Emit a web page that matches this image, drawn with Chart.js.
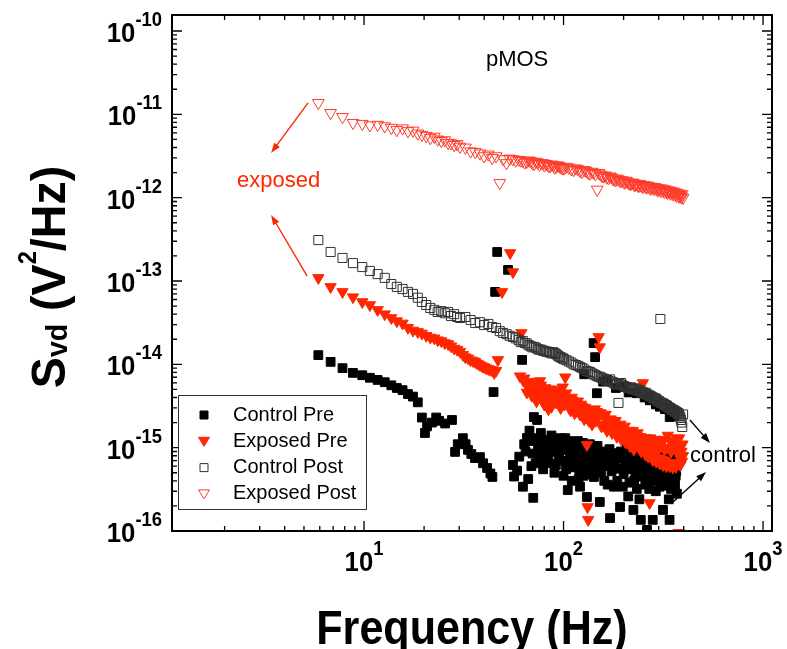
<!DOCTYPE html>
<html>
<head>
<meta charset="utf-8">
<script src="https://cdn.jsdelivr.net/npm/chart.js@4.4.1/dist/chart.umd.min.js"></script>
<style>
  html, body { margin: 0; padding: 0; background: #fff; }
</style>
</head>
<body>
<canvas id="chart" width="787" height="649"></canvas>
<script>
// ---- values ----
// frequency grid of the two "post" sweeps (Hz); second block fills the dense band
const postHz = [
  5.9, 6.8, 7.8, 8.8, 9.8, 10.7, 11.7, 12.7, 13.7, 14.6,
  15.6, 16.6, 17.6, 18.6, 19.5, 20.5, 21.5, 22.5, 23.4, 24.4,
  25.4, 26.4, 27.3, 28.3, 29.3, 30.3, 32.2, 34.2, 36.1, 38.1,
  40.0, 42.0, 43.9, 45.9, 47.9, 49.8, 51.8, 53.7, 55.7, 57.6,
  59.6, 62.5, 65.4, 68.4, 71.3, 74.2, 77.1, 80.1, 83.0, 85.9,
  88.9, 91.8, 94.7, 97.7, 100.6, 106.4, 112.3, 118.2, 124.0, 129.9,
  135.7, 141.6, 147.5, 153.3, 159.2, 165.0, 170.9, 176.8, 182.6, 188.5,
  194.3, 200.2, 206.1, 211.9, 217.8, 223.6, 229.5, 235.4, 241.2, 247.1,
  252.9, 258.8, 264.6, 270.5, 276.4, 282.2, 288.1, 293.9, 299.8, 305.7,
  311.5, 317.4, 323.2, 329.1, 334.9, 340.8, 346.7, 352.5, 358.4, 364.3,
  370.1, 376.0, 381.8, 387.7, 393.5, 397.4,
  61.0, 63.9, 66.9, 69.8, 72.8, 75.7, 78.6, 81.6, 84.5, 87.4,
  90.3, 93.3, 96.2, 99.1, 103.5, 109.4, 115.2, 121.1, 127.0, 132.8,
  138.7, 144.5, 150.4, 156.3, 162.1, 168.0, 173.8, 179.7, 185.5, 191.4,
  197.3, 203.1, 209.0, 214.8, 220.7, 226.6, 232.4, 238.3, 244.1, 250.0,
  255.9, 261.7, 267.6, 273.4, 279.3, 285.2, 291.0, 296.9, 302.7, 308.6,
  314.5, 320.3, 326.2, 332.0, 337.9, 343.8, 349.6, 355.5, 361.3, 367.2,
  373.0, 378.9, 384.8, 390.6
];
const exposedPostS = [
  1.37e-11, 1.04e-11, 9.3e-12, 7.9e-12, 7.7e-12, 7.4e-12, 7.5e-12, 7.2e-12, 6.9e-12, 6.5e-12,
  6.8e-12, 6.3e-12, 6.4e-12, 5.9e-12, 5.7e-12, 5.5e-12, 5.2e-12, 5.4e-12, 5.0e-12, 4.8e-12,
  4.9e-12, 4.55e-12, 4.5e-12, 4.3e-12, 4.4e-12, 4.1e-12, 4.0e-12, 3.6e-12, 3.55e-12, 3.4e-12,
  3.15e-12, 3.3e-12, 3.0e-12, 3.15e-12, 1.5e-12, 2.9e-12, 2.6e-12, 2.95e-12, 2.9e-12, 2.8e-12,
  2.85e-12, 2.75e-12, 2.7e-12, 2.75e-12, 2.55e-12, 2.65e-12, 2.6e-12, 2.45e-12, 2.5e-12, 2.4e-12,
  2.45e-12, 2.35e-12, 2.4e-12, 2.3e-12, 2.25e-12, 2.3e-12, 2.15e-12, 2.2e-12, 2.05e-12, 2.1e-12,
  1.95e-12, 2.0e-12, 1.25e-12, 1.9e-12, 1.8e-12, 1.75e-12, 1.8e-12, 1.68e-12, 1.62e-12, 1.66e-12,
  1.58e-12, 1.55e-12, 1.6e-12, 1.5e-12, 1.47e-12, 1.52e-12, 1.44e-12, 1.4e-12, 1.46e-12, 1.38e-12,
  1.42e-12, 1.35e-12, 1.4e-12, 1.32e-12, 1.36e-12, 1.3e-12, 1.34e-12, 1.27e-12, 1.3e-12, 1.24e-12,
  1.29e-12, 1.22e-12, 1.26e-12, 1.18e-12, 1.23e-12, 1.16e-12, 1.2e-12, 1.13e-12, 1.18e-12, 1.1e-12,
  1.15e-12, 1.07e-12, 1.12e-12, 1.04e-12, 1.1e-12, 1.0e-12,
  2.8e-12, 2.65e-12, 2.8e-12, 2.6e-12, 2.7e-12, 2.5e-12, 2.6e-12, 2.55e-12, 2.4e-12, 2.5e-12,
  2.3e-12, 2.45e-12, 2.35e-12, 2.25e-12, 2.35e-12, 2.2e-12, 2.25e-12, 2.1e-12, 2.15e-12, 2.0e-12,
  2.05e-12, 1.92e-12, 1.98e-12, 1.82e-12, 1.85e-12, 1.72e-12, 1.76e-12, 1.65e-12, 1.7e-12, 1.6e-12,
  1.62e-12, 1.52e-12, 1.56e-12, 1.48e-12, 1.5e-12, 1.42e-12, 1.47e-12, 1.38e-12, 1.42e-12, 1.34e-12,
  1.39e-12, 1.33e-12, 1.36e-12, 1.28e-12, 1.33e-12, 1.26e-12, 1.3e-12, 1.22e-12, 1.27e-12, 1.2e-12,
  1.25e-12, 1.17e-12, 1.22e-12, 1.14e-12, 1.19e-12, 1.12e-12, 1.16e-12, 1.09e-12, 1.14e-12, 1.06e-12,
  1.1e-12, 1.03e-12, 1.08e-12, 1.01e-12
];
const controlPostS = [
  3.1e-13, 2.23e-13, 1.89e-13, 1.64e-13, 1.47e-13, 1.32e-13, 1.21e-13, 1.09e-13, 9.2e-14, 8.5e-14,
  8.0e-14, 7.4e-14, 7.0e-14, 6.3e-14, 5.6e-14, 5.15e-14, 4.75e-14, 4.5e-14, 4.25e-14, 4.35e-14,
  4.1e-14, 4.25e-14, 3.8e-14, 4.0e-14, 3.7e-14, 3.6e-14, 3.7e-14, 3.4e-14, 3.13e-14, 3.2e-14,
  2.96e-14, 3.05e-14, 2.8e-14, 2.73e-14, 2.5e-14, 2.38e-14, 2.3e-14, 2.2e-14, 2.13e-14, 2.05e-14,
  1.95e-14, 1.9e-14, 1.78e-14, 1.65e-14, 1.62e-14, 1.52e-14, 1.5e-14, 1.45e-14, 1.42e-14, 1.38e-14,
  1.4e-14, 1.33e-14, 1.25e-14, 1.2e-14, 1.15e-14, 1.08e-14, 1.0e-14, 9.6e-15, 9.0e-15, 8.3e-15,
  8.1e-15, 7.6e-15, 7.2e-15, 7.0e-15, 6.7e-15, 6.4e-15, 6.6e-15, 6.1e-15, 5.8e-15, 3.44e-15,
  5.97e-15, 5.5e-15, 5.35e-15, 5.2e-15, 5.3e-15, 5.1e-15, 5.15e-15, 4.95e-15, 4.9e-15, 4.7e-15,
  4.5e-15, 4.55e-15, 4.3e-15, 4.2e-15, 4.1e-15, 3.95e-15, 3.9e-15, 3.75e-15, 3.55e-15, 3.5e-14,
  3.44e-15, 3.35e-15, 3.25e-15, 3.2e-15, 3.05e-15, 3.0e-15, 2.9e-15, 2.83e-15, 2.8e-15, 2.72e-15,
  2.65e-15, 2.6e-15, 2.4e-15, 2.15e-15, 1.77e-15, 2.5e-15,
  1.85e-14, 1.8e-14, 1.7e-14, 1.6e-14, 1.58e-14, 1.5e-14, 1.46e-14, 1.42e-14, 1.4e-14, 1.35e-14,
  1.36e-14, 1.28e-14, 1.22e-14, 1.18e-14, 1.12e-14, 1.05e-14, 9.8e-15, 9.3e-15, 8.7e-15, 8.2e-15,
  7.8e-15, 7.4e-15, 7.1e-15, 6.8e-15, 6.5e-15, 6.3e-15, 6.2e-15, 5.9e-15, 5.7e-15, 5.8e-15,
  5.6e-15, 5.4e-15, 5.25e-15, 5.2e-15, 5.0e-15, 5.05e-15, 4.85e-15, 4.8e-15, 4.6e-15, 4.6e-15,
  4.4e-15, 4.35e-15, 4.25e-15, 4.1e-15, 4.0e-15, 3.9e-15, 3.8e-15, 3.65e-15, 3.6e-15, 3.45e-15,
  3.4e-15, 3.3e-15, 3.2e-15, 3.1e-15, 3.02e-15, 2.95e-15, 2.85e-15, 2.8e-15, 2.7e-15, 2.68e-15,
  2.55e-15, 2.5e-15, 2.3e-15, 2.0e-15
];

const exposedPreHz = [
  5.9, 6.8, 7.8, 8.8, 9.8, 10.7, 11.7, 12.7, 13.7, 14.6,
  15.6, 16.6, 17.6, 18.6, 19.5, 20.5, 21.5, 22.5, 23.4, 24.4,
  25.4, 26.4, 27.3, 28.3, 29.3, 30.3, 31.3, 32.2, 33.2, 34.2,
  35.2, 36.1, 37.1, 38.1, 39.1, 40.0, 41.0, 42.0, 43.0, 43.9,
  44.9, 45.9, 46.9, 49.2, 54.0, 55.8, 60.5, 61.5, 62.6, 64.5,
  66.4, 68.4, 70.3, 72.3, 74.2, 76.2, 78.1, 80.0, 82.0, 84.0,
  86.0, 88.0, 90.8, 92.8, 95.7, 97.7, 100, 102, 104, 107,
  110, 112, 115, 118, 121, 124, 127, 130, 131, 132,
  133, 136, 139, 142, 145, 147, 150, 152, 155, 160,
  165, 170, 175, 180, 185, 190, 195, 200, 205, 210,
  215, 220, 225, 230, 235, 240, 245, 250, 253, 258,
  262, 266, 270, 274, 280, 285, 291, 297, 303, 309,
  315, 321, 327, 333, 340, 346, 353, 360, 366, 373,
  378, 380, 385, 390, 395,
  63.5, 65.5, 67.4, 69.4, 71.3, 73.2, 75.2, 77.1, 79.1, 81.0,
  83.0, 85.0, 87.0, 89.0, 91.8, 94.2, 96.7, 99.0, 101, 103,
  105.5, 108.5, 111, 113.5, 116.5, 119.5, 122.5, 125.5, 128.5, 134,
  137.5, 140.5, 143.5, 148.5, 153.5, 157.5, 162.5, 167.5, 172.5, 177.5,
  182.5, 187.5, 192.5, 197.5, 202.5, 207.5, 212.5, 217.5, 222.5, 227.5,
  232.5, 237.5, 242.5, 247.5, 255.5, 260, 264, 268, 272, 277,
  282.5, 288, 294, 300, 306, 312, 318, 324, 330, 336.5,
  343, 349.5, 356.5, 363, 369.5, 375.5, 382.5, 387.5, 392.5, 397
];
const exposedPreS = [
  1.09e-13, 8.5e-14, 7.4e-14, 6.4e-14, 5.6e-14, 5.15e-14, 4.5e-14, 4.0e-14, 3.6e-14, 3.3e-14,
  3.1e-14, 2.75e-14, 2.55e-14, 2.45e-14, 2.35e-14, 2.2e-14, 2.1e-14, 2.05e-14, 1.95e-14, 1.9e-14,
  1.8e-14, 1.75e-14, 1.65e-14, 1.55e-14, 1.5e-14, 1.42e-14, 1.3e-14, 1.22e-14, 1.18e-14, 1.12e-14,
  1.1e-14, 1.07e-14, 1.02e-14, 9.8e-15, 9.5e-15, 9.3e-15, 9.0e-15, 8.8e-15, 8.6e-15, 8.5e-15,
  7.9e-15, 8.4e-15, 1.13e-14, 7.4e-14, 2.17e-13, 1.28e-13, 7.2e-15, 2.38e-14, 6.5e-15, 6.0e-15,
  5.3e-15, 5.7e-15, 4.8e-15, 4.1e-15, 5.4e-15, 6.3e-15, 4.5e-15, 3.3e-15, 4.9e-15, 2.9e-15,
  4.4e-15, 3.6e-15, 5.0e-15, 3.9e-15, 4.7e-15, 3.4e-15, 4.2e-15, 7.0e-15, 3.7e-15, 3.0e-15,
  4.0e-15, 3.2e-15, 2.7e-15, 3.6e-15, 2.5e-15, 3.1e-15, 2.2e-15, 2.8e-15, 1.08e-15, 1.94e-16,
  1.36e-16, 2.4e-15, 1.9e-15, 2.6e-15, 2.1e-15, 2.7e-15, 2.13e-14, 1.61e-14, 1.8e-15, 2.3e-15,
  1.6e-15, 2.0e-15, 1.5e-15, 1.9e-15, 1.35e-15, 1.75e-15, 1.25e-15, 1.6e-15, 1.15e-15, 1.5e-15,
  1.05e-15, 1.4e-15, 9.5e-16, 1.3e-15, 1.5e-15, 1.2e-15, 9.0e-16, 5.97e-15, 1.1e-15, 8.2e-16,
  1.3e-15, 7.8e-16, 2.17e-16, 1.1e-15, 7.1e-16, 1.25e-15, 6.8e-16, 1.0e-15, 6.5e-16, 1.2e-15,
  6.2e-16, 9.5e-16, 6.0e-16, 1.4e-15, 6.0e-16, 9.0e-16, 5.8e-16, 1.15e-15, 5.9e-16, 8.5e-16,
  9.5e-17, 1.3e-15, 6.2e-16, 9.0e-16, 1.1e-15,
  6.8e-15, 4.6e-15, 6.2e-15, 4.2e-15, 5.9e-15, 3.6e-15, 4.9e-15, 5.6e-15, 3.9e-15, 5.2e-15,
  3.5e-15, 5.0e-15, 3.1e-15, 4.5e-15, 3.5e-15, 4.3e-15, 3.0e-15, 5.3e-15, 3.3e-15, 4.5e-15,
  3.9e-15, 2.8e-15, 3.7e-15, 2.6e-15, 3.3e-15, 2.9e-15, 3.3e-15, 2.4e-15, 3.0e-15, 2.1e-15,
  2.8e-15, 2.2e-15, 2.9e-15, 2.3e-15, 2.6e-15, 1.9e-15, 2.5e-15, 1.8e-15, 2.2e-15, 1.65e-15,
  2.1e-15, 1.5e-15, 1.9e-15, 1.4e-15, 1.8e-15, 1.3e-15, 1.6e-15, 1.2e-15, 1.6e-15, 1.1e-15,
  1.4e-15, 1.05e-15, 1.35e-15, 1.0e-15, 1.3e-15, 9.0e-16, 1.2e-15, 8.5e-16, 1.3e-15, 9.0e-16,
  1.15e-15, 8.2e-16, 1.1e-15, 7.5e-16, 1.05e-15, 7.2e-16, 1.25e-15, 7.0e-16, 1.0e-15, 6.6e-16,
  1.2e-15, 6.5e-16, 1.0e-15, 6.2e-16, 1.3e-15, 6.6e-16, 1.0e-15, 7.2e-16, 6.8e-16, 8.0e-16
];

const controlPreHz = [
  5.9, 6.8, 7.8, 8.8, 9.8, 10.7, 11.7, 12.7, 13.7, 14.6,
  15.6, 16.6, 17.6, 18.6, 19.5, 20.2, 20.7, 21.9, 23.0, 23.8,
  25.5, 27.6, 28.6, 29.5, 31.3, 32.3, 33.2, 34.5, 36.0, 38.1,
  39.5, 41.4, 43.0, 44.0, 44.6, 45.4, 46.5, 52.7, 55.8, 56.5,
  62.0, 62.6, 64.5, 65.6, 67.5, 69.0, 70.5, 71.0, 72.0, 73.7,
  74.5, 75.0, 77.0, 79.0, 81.0, 82.6, 83.5, 85.0, 87.0, 88.5,
  90.0, 93.0, 95.0, 98.0, 100, 102, 104, 105, 107, 109,
  111, 114, 117, 119, 121, 123, 125, 128, 131, 134,
  137, 141, 141.5, 142, 144, 145, 148, 152, 156, 160,
  165, 168, 171, 174, 177, 181, 186, 192, 196, 200,
  204, 208, 214, 218, 224, 229, 233, 237, 242, 244,
  248, 252, 257, 262, 266, 272, 277, 280, 285, 290,
  296, 300, 308, 315, 320, 328, 330, 334, 340, 342,
  346, 350, 355, 360, 365, 370,
  127, 147, 158, 165.5, 183, 199, 212, 233.5, 255, 270.5,
  290.5, 304, 322, 340.5, 358,
  58.5, 60.0, 63.5, 66.5, 68.0, 70.0, 72.5, 76.0, 78.0, 80.0,
  84.0, 86.0, 89.0, 91.5, 94.0, 96.5, 99.0, 101, 103, 106,
  108, 110, 112.5, 115.5, 118, 120, 122, 124, 126, 129.5,
  132.5, 135.5, 139, 143, 146.5, 150, 154, 158, 162, 166.5,
  170, 175.5, 179, 183.5, 188.5, 194, 198, 202, 206, 211,
  216, 221, 226, 231, 235, 240, 246, 250, 254, 260,
  264, 269, 274, 282, 287, 293, 298, 303, 311, 317,
  324, 331, 337, 344, 352, 357, 362, 367, 372, 338
];
const controlPreS = [
  1.29e-14, 1.07e-14, 9.0e-15, 7.9e-15, 7.4e-15, 6.9e-15, 6.5e-15, 6.1e-15, 5.6e-15, 5.2e-15,
  4.9e-15, 4.4e-15, 4.1e-15, 3.5e-15, 2.3e-15, 1.5e-15, 1.8e-15, 2.0e-15, 2.3e-15, 2.1e-15,
  1.95e-15, 2.15e-15, 8.9e-16, 1.1e-15, 1.3e-15, 1.1e-15, 9.4e-16, 8.4e-16, 7.5e-16, 7.7e-16,
  6.5e-16, 5.7e-16, 4.9e-16, 4.45e-16, 4.65e-15, 7.4e-14, 2.23e-13, 1.36e-13, 6.2e-16, 4.5e-16,
  1.13e-14, 3.4e-16, 9.0e-16, 1.31e-15, 1.6e-15, 6.0e-16, 2.5e-16, 2.33e-15, 1.3e-15, 2.15e-15,
  1.02e-15, 8.0e-16, 1.5e-15, 5.5e-16, 1.1e-15, 1.24e-15, 7.1e-16, 6.5e-16, 1.4e-15, 1.02e-15,
  5.0e-16, 1.2e-15, 7.5e-16, 1.05e-15, 4.6e-16, 1.3e-15, 9.4e-16, 3.1e-16, 6.8e-16, 1.1e-15,
  8.6e-16, 5.8e-16, 9.6e-16, 4.2e-16, 3.4e-16, 7.5e-16, 1.14e-15, 1.0e-15, 2.56e-16, 6.0e-16,
  9.0e-16, 7.7e-16, 1.8e-14, 4.45e-16, 1.22e-14, 5.5e-16, 1.05e-15, 2.23e-16, 6.5e-16, 4.0e-16,
  8.6e-16, 7.0e-16, 1.43e-16, 5.2e-16, 8.6e-16, 6.5e-16, 4.0e-16, 1.94e-16, 7.5e-16, 4.8e-16,
  6.2e-16, 1.02e-15, 3.8e-16, 7.0e-16, 1.79e-16, 5.0e-16, 3.2e-16, 6.5e-16, 9.4e-16, 1.36e-16,
  4.5e-16, 7.8e-16, 3.6e-16, 1.03e-16, 6.0e-16, 4.2e-16, 8.0e-16, 1.36e-16, 5.0e-16, 3.0e-16,
  6.8e-16, 4.4e-16, 7.5e-16, 1.79e-16, 3.5e-16, 5.4e-16, 8.6e-16, 6.2e-16, 1.36e-16, 7.1e-16,
  3.2e-16, 5.8e-16, 4.1e-16, 7.6e-16, 4.6e-16, 2.8e-16,
  7.6e-15, 4.5e-15, 6.2e-15, 6.5e-15, 5.2e-15, 5.35e-15, 4.6e-15, 4.5e-15, 4.0e-15, 3.7e-15,
  3.3e-15, 3.1e-15, 2.9e-15, 2.33e-15, 2.4e-15,
  5.3e-16, 7.8e-16, 1.1e-15, 4.2e-16, 1.2e-15, 8.5e-16, 6.5e-16, 1.2e-15, 9.0e-16, 6.8e-16,
  1.15e-15, 8.8e-16, 1.25e-15, 6.2e-16, 9.5e-16, 1.3e-15, 7.0e-16, 9.8e-16, 5.5e-16, 1.2e-15,
  8.0e-16, 4.0e-16, 1.0e-15, 7.2e-16, 1.2e-15, 5.4e-16, 9.0e-16, 6.0e-16, 4.6e-16, 7.8e-16,
  5.2e-16, 1.1e-15, 4.8e-16, 9.5e-16, 6.2e-16, 8.0e-16, 5.0e-16, 9.0e-16, 6.0e-16, 3.6e-16,
  9.6e-16, 6.8e-16, 3.4e-16, 8.0e-16, 5.6e-16, 9.0e-16, 3.4e-16, 8.2e-16, 5.5e-16, 2.6e-16,
  5.8e-16, 8.4e-16, 4.0e-16, 7.4e-16, 5.5e-16, 2.4e-16, 6.8e-16, 5.6e-16, 8.8e-16, 4.8e-16,
  7.0e-16, 3.2e-16, 5.6e-16, 6.5e-16, 4.0e-16, 5.3e-16, 7.8e-16, 3.4e-16, 5.8e-16, 4.8e-16,
  7.0e-16, 4.0e-16, 2.4e-16, 6.6e-16, 4.8e-16, 6.8e-16, 3.6e-16, 5.2e-16, 6.4e-16, 8.0e-16
];

const seriesNames = ['Control Pre', 'Exposed Pre', 'Control Post', 'Exposed Post'];
const xTickExp = [1, 2, 3];
const yTickExp = [-10, -11, -12, -13, -14, -15, -16];

// text labels and arrows, placed in data coordinates (Hz, V^2/Hz)
const RED = '#ff2600';
const notes = [
  { text: 'pMOS', hz: 58.5, s: 4.5e-11, color: '#000', align: 'center' },
  { text: 'exposed', hz: 2.31, s: 1.58e-12, color: RED, align: 'left' },
  { text: 'control', hz: 430, s: 7.9e-16, color: '#000', align: 'left' }
];
const arrows = [
  { from: [5.24, 1.37e-11], to: [3.42, 3.44e-12], color: RED },
  { from: [5.18, 1.15e-13], to: [3.42, 6.2e-13], color: RED },
  { from: [430, 2.15e-15], to: [542, 1.14e-15], color: '#000' },
  { from: [354, 2.23e-16], to: [518, 5.1e-16], color: '#000' }
];

const FONT = '"Liberation Sans", Arial, Helvetica, sans-serif';

function pairs(hz, s) {
  return hz.map((f, i) => ({ x: f, y: s[i] }));
}

// draw a row of text pieces (for super/subscripts)
function drawRuns(ctx, runs, x, y, sx, align) {
  ctx.save();
  ctx.translate(x, y);
  ctx.scale(sx, 1);
  let w = 0;
  runs.forEach(r => { ctx.font = r.font; w += ctx.measureText(r.t).width; });
  let cx = align === 'right' ? -w : align === 'center' ? -w / 2 : 0;
  ctx.textBaseline = 'alphabetic';
  ctx.textAlign = 'left';
  runs.forEach(r => {
    ctx.font = r.font;
    ctx.fillText(r.t, cx, r.dy || 0);
    cx += ctx.measureText(r.t).width;
  });
  ctx.restore();
}

function drawArrow(ctx, x1, y1, x2, y2, color) {
  const a = Math.atan2(y2 - y1, x2 - x1), L = 10, W = 3.5;
  ctx.strokeStyle = color;
  ctx.fillStyle = color;
  ctx.lineWidth = 1.4;
  ctx.beginPath();
  ctx.moveTo(x1, y1);
  ctx.lineTo(x2 - Math.cos(a) * L * 0.7, y2 - Math.sin(a) * L * 0.7);
  ctx.stroke();
  ctx.beginPath();
  ctx.moveTo(x2, y2);
  ctx.lineTo(x2 - L * Math.cos(a) + W * Math.sin(a), y2 - L * Math.sin(a) - W * Math.cos(a));
  ctx.lineTo(x2 - L * Math.cos(a) - W * Math.sin(a), y2 - L * Math.sin(a) + W * Math.cos(a));
  ctx.closePath();
  ctx.fill();
}

function legendMarker(ctx, ds, x, y) {
  ctx.save();
  ctx.lineWidth = 1;
  ctx.strokeStyle = ds.borderColor;
  ctx.fillStyle = ds.backgroundColor;
  ctx.beginPath();
  if (ds.pointStyle === 'rect') {
    ctx.rect(x - 4, y - 4, 8, 8);
  } else {
    ctx.moveTo(x - 5.5, y - 4);
    ctx.lineTo(x + 5.5, y - 4);
    ctx.lineTo(x, y + 5);
    ctx.closePath();
  }
  ctx.fill();
  ctx.stroke();
  ctx.restore();
}

const decorPlugin = {
  id: 'decor',
  afterDraw(chart) {
    const ctx = chart.ctx;
    const a = chart.chartArea;
    const xs = chart.scales.x, ys = chart.scales.y;
    ctx.save();

    // inward ticks on all four sides
    ctx.strokeStyle = '#000';
    ctx.lineWidth = 1.3;
    ctx.beginPath();
    for (let e = 0; e <= 3; e++) {
      for (let m = 1; m <= 9; m++) {
        const v = m * Math.pow(10, e);
        if (v < xs.min || v > xs.max) continue;
        const px = xs.getPixelForValue(v);
        const len = m === 1 ? 10 : 5;
        ctx.moveTo(px, a.bottom); ctx.lineTo(px, a.bottom - len);
        ctx.moveTo(px, a.top); ctx.lineTo(px, a.top + len);
      }
    }
    for (let e = -16; e <= -10; e++) {
      for (let m = 1; m <= 9; m++) {
        const v = m * Math.pow(10, e);
        if (v < ys.min * 0.999 || v > ys.max) continue;
        const py = ys.getPixelForValue(v);
        const len = m === 1 ? 10 : 5;
        ctx.moveTo(a.left, py); ctx.lineTo(a.left + len, py);
        ctx.moveTo(a.right, py); ctx.lineTo(a.right - len, py);
      }
    }
    ctx.stroke();

    // frame
    ctx.lineWidth = 2;
    ctx.strokeRect(a.left, a.top, a.right - a.left, a.bottom - a.top);

    // tick labels
    ctx.fillStyle = '#000';
    const big = `bold 28px ${FONT}`, sup = `bold 20px ${FONT}`;
    yTickExp.forEach(e => {
      const py = ys.getPixelForValue(Math.pow(10, e));
      drawRuns(ctx, [{ t: '10', font: big }, { t: String(e), font: sup, dy: -16 }],
        a.left - 10, py + 11, 0.92, 'right');
    });
    xTickExp.forEach(e => {
      const px = xs.getPixelForValue(Math.pow(10, e));
      drawRuns(ctx, [{ t: '10', font: big }, { t: String(e), font: sup, dy: -16 }],
        px, a.bottom + 40, 0.92, 'center');
    });

    // axis titles
    const tFont = `bold 49px ${FONT}`;
    drawRuns(ctx, [{ t: 'Frequency (Hz)', font: tFont }],
      (a.left + a.right) / 2, a.bottom + 113, 0.88, 'center');
    ctx.save();
    ctx.translate(65, (a.top + a.bottom) / 2 + 4);
    ctx.rotate(-Math.PI / 2);
    drawRuns(ctx, [
      { t: 'S', font: tFont },
      { t: 'vd', font: `bold 30px ${FONT}`, dy: 2 },
      { t: ' (V', font: tFont },
      { t: '2', font: `bold 25px ${FONT}`, dy: -29 },
      { t: '/Hz)', font: tFont }
    ], 0, 0, 0.95, 'center');
    ctx.restore();

    // annotations
    notes.forEach(n => {
      ctx.font = `22px ${FONT}`;
      ctx.fillStyle = n.color;
      ctx.textAlign = n.align;
      ctx.textBaseline = 'middle';
      ctx.fillText(n.text, xs.getPixelForValue(n.hz), ys.getPixelForValue(n.s));
    });
    arrows.forEach(r => {
      drawArrow(ctx,
        xs.getPixelForValue(r.from[0]), ys.getPixelForValue(r.from[1]),
        xs.getPixelForValue(r.to[0]), ys.getPixelForValue(r.to[1]), r.color);
    });

    // legend box
    const bx = a.left + 6;
    ctx.fillStyle = '#fff';
    ctx.strokeStyle = '#333';
    ctx.lineWidth = 1;
    ctx.fillRect(bx, 395, 188, 114);
    ctx.strokeRect(bx + 0.5, 395.5, 188, 114);
    chart.data.datasets.forEach((ds, i) => {
      const ry = 415 + i * 26.3;
      legendMarker(ctx, ds, bx + 26, ry);
      ctx.fillStyle = '#000';
      ctx.font = `20px ${FONT}`;
      ctx.textAlign = 'left';
      ctx.textBaseline = 'middle';
      ctx.fillText(ds.label, bx + 55, ry);
    });
    ctx.restore();
  }
};

new Chart(document.getElementById('chart'), {
  type: 'scatter',
  data: {
    datasets: [
      {
        label: seriesNames[0], data: pairs(controlPreHz, controlPreS),
        pointStyle: 'rect', pointRadius: 6.2, borderWidth: 1,
        backgroundColor: '#000', borderColor: '#000', order: 4, clip: 0
      },
      {
        label: seriesNames[1], data: pairs(exposedPreHz, exposedPreS),
        pointStyle: 'triangle', pointRotation: 180, pointRadius: 6.5, borderWidth: 1,
        backgroundColor: RED, borderColor: RED, order: 3, clip: 0
      },
      {
        label: seriesNames[2], data: pairs(postHz, controlPostS),
        pointStyle: 'rect', pointRadius: 6.4, borderWidth: 1,
        backgroundColor: 'rgba(255,255,255,0)', borderColor: '#333', order: 2, clip: 0
      },
      {
        label: seriesNames[3], data: pairs(postHz, exposedPostS),
        pointStyle: 'triangle', pointRotation: 180, pointRadius: 6.8, borderWidth: 1,
        backgroundColor: 'rgba(255,255,255,0)', borderColor: '#ff3b2b', order: 1, clip: 0
      }
    ]
  },
  options: {
    responsive: false,
    animation: false,
    events: [],
    layout: { autoPadding: false, padding: { top: 15, right: 15, left: 0, bottom: 0 } },
    plugins: { legend: { display: false }, tooltip: { enabled: false } },
    scales: {
      x: {
        type: 'logarithmic', min: 1.09, max: 1109,
        ticks: { display: false }, grid: { display: false }, border: { display: false },
        afterFit: s => { s.height = 118; }
      },
      y: {
        type: 'logarithmic', min: 1e-16, max: 1.556e-10,
        ticks: { display: false }, grid: { display: false }, border: { display: false },
        afterFit: s => { s.width = 172; }
      }
    }
  },
  plugins: [decorPlugin]
});
</script>
</body>
</html>
